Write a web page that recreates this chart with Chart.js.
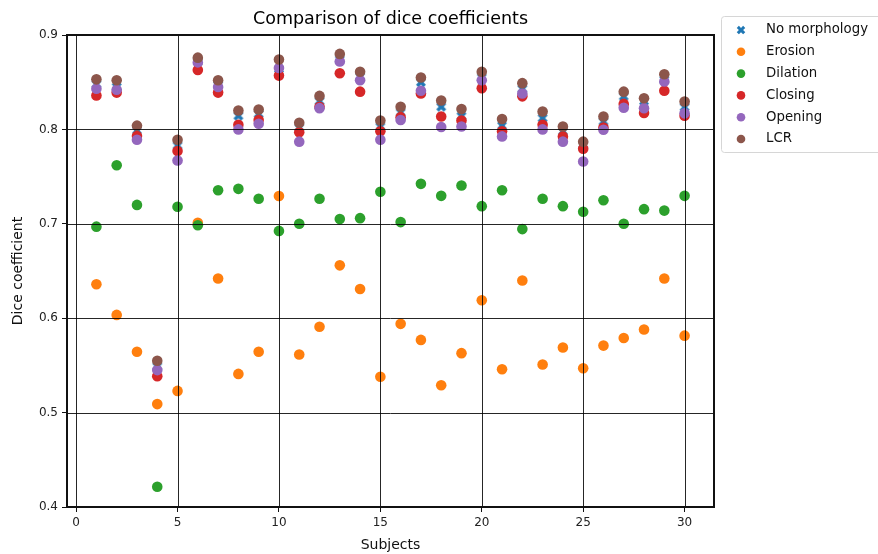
<!DOCTYPE html>
<html>
<head>
<meta charset="utf-8">
<script src="https://cdn.jsdelivr.net/npm/chart.js@4.4.1/dist/chart.umd.min.js"></script>
<style>
    html, body { margin: 0; padding: 0; background: #fff; }
</style>
</head>
<body>
<canvas id="diceChart" width="878" height="554"></canvas>
<script>
const subjects = [1, 2, 3, 4, 5, 6, 7, 8, 9, 10, 11, 12, 13, 14, 15,
    16, 17, 18, 19, 20, 21, 22, 23, 24, 25, 26, 27, 28, 29, 30];

const noMorphology = [0.848, 0.845, 0.799, 0.549, 0.783, 0.872, 0.847, 0.8145, 0.8165, 0.864,
    0.802, 0.830, 0.874, 0.856, 0.803, 0.818, 0.850, 0.824, 0.814, 0.855,
    0.804, 0.843, 0.812, 0.798, 0.784, 0.8085, 0.835, 0.830, 0.8525, 0.8236];
const erosion = [0.636, 0.6035, 0.5645, 0.509, 0.523, 0.701, 0.642, 0.541, 0.5645, 0.7295,
    0.5615, 0.591, 0.656, 0.631, 0.538, 0.594, 0.577, 0.529, 0.563, 0.619,
    0.546, 0.640, 0.551, 0.569, 0.547, 0.571, 0.579, 0.588, 0.642, 0.5815];
const dilation = [0.697, 0.762, 0.720, 0.4215, 0.718, 0.6985, 0.7355, 0.737, 0.7265, 0.6925,
    0.700, 0.7265, 0.705, 0.706, 0.734, 0.7018, 0.7423, 0.7296, 0.7406, 0.7187,
    0.7356, 0.6944, 0.7265, 0.7187, 0.7127, 0.725, 0.700, 0.7155, 0.714, 0.7296];
const closing = [0.836, 0.839, 0.793, 0.5385, 0.777, 0.863, 0.839, 0.805, 0.810, 0.857,
    0.797, 0.824, 0.8595, 0.840, 0.798, 0.813, 0.838, 0.8137, 0.8095, 0.8437,
    0.798, 0.835, 0.805, 0.7926, 0.7796, 0.802, 0.827, 0.8173, 0.841, 0.8144];
const opening = [0.843, 0.842, 0.789, 0.545, 0.767, 0.871, 0.845, 0.800, 0.806, 0.865,
    0.787, 0.8225, 0.872, 0.852, 0.789, 0.810, 0.841, 0.8025, 0.803, 0.852,
    0.7926, 0.838, 0.800, 0.787, 0.766, 0.7996, 0.823, 0.8225, 0.8507, 0.817];
const lcr = [0.853, 0.852, 0.804, 0.555, 0.789, 0.876, 0.852, 0.820, 0.821, 0.874,
    0.807, 0.8355, 0.880, 0.861, 0.8095, 0.824, 0.855, 0.8306, 0.8215, 0.861,
    0.811, 0.849, 0.819, 0.803, 0.787, 0.8137, 0.840, 0.833, 0.8585, 0.8296];

const seriesNames = ["No morphology", "Erosion", "Dilation", "Closing", "Opening", "LCR"];
const seriesColors = ["#1f77b4", "#ff7f0e", "#2ca02c", "#d62728", "#9467bd", "#8c564b"];
const seriesValues = [noMorphology, erosion, dilation, closing, opening, lcr];

const xTicks = [0, 5, 10, 15, 20, 25, 30];
const yTicks = [0.4, 0.5, 0.6, 0.7, 0.8, 0.9];

const FONT = "'DejaVu Sans', 'Liberation Sans', sans-serif";

// filled "X" marker path, unit size centred on 0,0
function xPath(ctx, cx, cy, size) {
    const p = [[-0.25, -0.5], [0, -0.25], [0.25, -0.5], [0.5, -0.25], [0.25, 0], [0.5, 0.25],
        [0.25, 0.5], [0, 0.25], [-0.25, 0.5], [-0.5, 0.25], [-0.25, 0], [-0.5, -0.25]];
    ctx.beginPath();
    p.forEach(([px, py], i) => {
        const x = cx + px * size, y = cy + py * size;
        if (i === 0) ctx.moveTo(x, y); else ctx.lineTo(x, y);
    });
    ctx.closePath();
}

function makeXMarker(color, size) {
    const c = document.createElement("canvas");
    c.width = size + 2;
    c.height = size + 2;
    const ctx = c.getContext("2d");
    ctx.fillStyle = color;
    xPath(ctx, c.width / 2, c.height / 2, size);
    ctx.fill();
    return c;
}

const xMarker = makeXMarker(seriesColors[0], 10);

// grid lines sit above the markers, then the frame, title and legend
const overlay = {
    id: "overlay",
    afterDatasetsDraw(chart) {
        const { ctx, chartArea: a, scales } = chart;
        ctx.save();
        ctx.strokeStyle = "rgba(0,0,0,0.85)";
        ctx.lineWidth = 1;
        ctx.beginPath();
        xTicks.forEach(v => {
            const x = Math.round(scales.x.getPixelForValue(v)) + 0.5;
            ctx.moveTo(x, a.top);
            ctx.lineTo(x, a.bottom);
        });
        yTicks.forEach(v => {
            const y = Math.round(scales.y.getPixelForValue(v)) + 0.5;
            ctx.moveTo(a.left, y);
            ctx.lineTo(a.right, y);
        });
        ctx.stroke();

        ctx.strokeStyle = "#111";
        ctx.lineWidth = 2;
        ctx.strokeRect(a.left, a.top, a.right - a.left, a.bottom - a.top);

        // title
        ctx.fillStyle = "#000";
        ctx.font = "17.5px " + FONT;
        ctx.textAlign = "center";
        ctx.textBaseline = "middle";
        ctx.fillText("Comparison of dice coefficients", (a.left + a.right) / 2, 19);

        // legend
        const lx = 721, ly = 16, lw = 170, lh = 136;
        ctx.fillStyle = "rgba(255,255,255,0.8)";
        ctx.strokeStyle = "#d6d6d6";
        ctx.lineWidth = 1;
        ctx.beginPath();
        ctx.roundRect(lx + 0.5, ly + 0.5, lw, lh, 3);
        ctx.fill();
        ctx.stroke();

        ctx.font = "13.3px " + FONT;
        ctx.textAlign = "left";
        seriesNames.forEach((name, i) => {
            const y = 30 + i * 21.8;
            if (i === 0) {
                ctx.fillStyle = seriesColors[0];
                xPath(ctx, 741, y, 8.5);
                ctx.fill();
            } else {
                ctx.fillStyle = seriesColors[i];
                ctx.beginPath();
                ctx.arc(741, y, 4.3, 0, Math.PI * 2);
                ctx.fill();
            }
            ctx.fillStyle = "#111";
            ctx.fillText(name, 766, y);
        });
        ctx.restore();
    }
};

new Chart(document.getElementById("diceChart"), {
    type: "scatter",
    data: {
        datasets: seriesNames.map((name, i) => ({
            label: name,
            data: subjects.map((s, k) => ({ x: s, y: seriesValues[i][k] })),
            backgroundColor: seriesColors[i],
            borderWidth: 0,
            pointRadius: 5.3,
            pointStyle: i === 0 ? xMarker : "circle",
            order: seriesNames.length - i
        }))
    },
    options: {
        responsive: false,
        animation: false,
        events: [],
        layout: { padding: { left: 0, right: 164, top: 35, bottom: 0 } },
        plugins: {
            legend: { display: false },
            title: { display: false },
            tooltip: { enabled: false }
        },
        scales: {
            x: {
                type: "linear",
                min: -0.45,
                max: 31.45,
                afterBuildTicks: scale => { scale.ticks = xTicks.map(v => ({ value: v })); },
                afterFit: scale => { scale.height = 47; },
                grid: { drawOnChartArea: false, drawTicks: true, tickLength: 5, tickColor: "#111", tickWidth: 1 },
                border: { display: false },
                ticks: { padding: 4, color: "#222", font: { family: FONT, size: 12 }, maxRotation: 0 },
                title: { display: true, text: "Subjects", color: "#111", font: { family: FONT, size: 14 }, padding: { top: 0, bottom: 0 } }
            },
            y: {
                type: "linear",
                min: 0.4,
                max: 0.9,
                afterBuildTicks: scale => { scale.ticks = yTicks.map(v => ({ value: v })); },
                afterFit: scale => { scale.width = 67; },
                grid: { drawOnChartArea: false, drawTicks: true, tickLength: 5, tickColor: "#111", tickWidth: 1 },
                border: { display: false },
                ticks: { padding: 4, color: "#222", font: { family: FONT, size: 12 }, callback: v => v.toFixed(1) },
                title: { display: true, text: "Dice coefficient", color: "#111", font: { family: FONT, size: 14 }, padding: { top: 10, bottom: 0 } }
            }
        }
    },
    plugins: [overlay]
});
</script>
</body>
</html>
